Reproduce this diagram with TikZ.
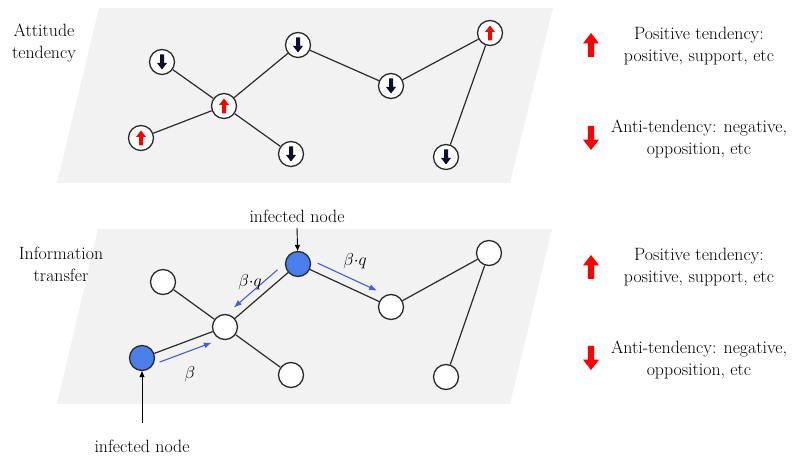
\documentclass[tikz,border=0pt]{standalone}
\usepackage{tikz}
\usetikzlibrary{arrows.meta,calc,positioning}
\definecolor{panelgray}{HTML}{F2F2F2}
\definecolor{edgegray}{HTML}{2B2B2B}
\definecolor{infblue}{HTML}{4A7EEB}
\definecolor{flowblue}{HTML}{4560D6}
\definecolor{darknavy}{HTML}{0D0F2E}
\tikzset{%
	panel/.style    = {fill=panelgray, draw=none}, % plane
	agent/.style    = {draw=edgegray, circle, fill=white, line width=1.3pt, minimum size=25pt, inner sep=0pt}, % node
	infected/.style = {agent, fill=infblue}, % infected node
	link/.style     = {draw=edgegray, line width=1.2pt},
	flow/.style     = {draw=flowblue, line width=1.1pt, -{Latex[length=8pt,width=6pt]}},
	pointer/.style  = {draw=black, line width=0.9pt, -{Triangle[length=6pt,width=5pt]}},
	txt/.style      = {align=center, inner sep=0pt, font=\fontsize{17.8}{22}\selectfont},
	rate/.style     = {txt, font=\fontsize{17.8}{22}\selectfont},
	tend/.pic       = {\fill (-2,-7.5) -- (-2,1) -- (-5,1) -- (0,7.5) -- (5,1) -- (2,1) -- (2,-7.5) -- cycle;},
}

\begin{document}
\begin{tikzpicture}[x=1pt, y=1pt]
	\useasboundingbox (0,0) rectangle (792,457);
	% planes
	\fill[panel] (99,449) -- (553,449) -- (510,274) -- (57,274) -- cycle;
	\fill[panel] (98,228) -- (552,228) -- (510,53) -- (57,53) -- cycle;

	\node[txt] (att) at (44,413.5) {Attitude\\tendency};
	\node[txt] (inf) at (61,192.5) {Information\\transfer};

	% attitude layer
	\node[agent] (a1) at (162,395) {};
	\node[agent] (a2) at (224,351) {};
	\node[agent] (a3) at (141,319) {};
	\node[agent] (a4) at (291,303) {};
	\node[agent] (a5) at (298,412) {};
	\node[agent] (a6) at (391,371) {};
	\node[agent] (a7) at (490,424) {};
	\node[agent] (a8) at (446,300) {};
	\draw[link] (a1) -- (a2);
	\draw[link] (a3) -- (a2);
	\draw[link] (a2) -- (a4);
	\draw[link] (a2) -- (a5);
	\draw[link] (a5) -- (a6);
	\draw[link] (a6) -- (a7);
	\draw[link] (a7) -- (a8);
	\foreach \n in {a2,a3,a7} \pic[red] at (\n) {tend};
	\foreach \n in {a1,a4,a5,a6,a8} \pic[darknavy,rotate=180] at (\n) {tend};

	% transfer layer
	\node[agent] (b1) at (163,175) {};
	\node[agent] (b2) at (225,130) {};
	\node[infected] (b3) at (142,99) {};
	\node[agent] (b4) at (291,82) {};
	\node[infected] (b5) at (298,193) {};
	\node[agent] (b6) at (391,150) {};
	\node[agent] (b7) at (489,204) {};
	\node[agent] (b8) at (446,80) {};
	\draw[link] (b1) -- (b2);
	\draw[link] (b3) -- (b2);
	\draw[link] (b2) -- (b4);
	\draw[link] (b2) -- (b5);
	\draw[link] (b5) -- (b6);
	\draw[link] (b6) -- (b7);
	\draw[link] (b7) -- (b8);

	\draw[flow] ($(b3)!0.17!(b2)!10pt!-90:(b2)$) -- ($(b3)!0.8!(b2)!10pt!-90:(b2)$);
	\draw[flow] ($(b5)!0.2!(b2)!9pt!-90:(b2)$) -- ($(b5)!0.8!(b2)!9pt!-90:(b2)$);
	\draw[flow] ($(b5)!0.17!(b6)!9pt!90:(b6)$) -- ($(b5)!0.81!(b6)!9pt!90:(b6)$);
	\node[rate] (r1) at (190,83) {$\beta$};
	\node[rate] (r2) at (250,175) {$\beta{\cdot}q$};
	\node[rate] (r3) at (355,196) {$\beta{\cdot}q$};

	\node[txt] (in1) at (297,241) {infected node};
	\node[txt] (in2) at (142,11) {infected node};
	\coordinate (s1) at (297,229);
	\coordinate (s2) at (142,34);
	\draw[pointer] (s1) -- (b5);
	\draw[pointer] (s2) -- (b3);

	% legend
	\pic[red,scale=1.6] at (591,412) {tend};
	\pic[red,scale=1.6,rotate=180] at (591,319) {tend};
	\pic[red,scale=1.6] at (591,190) {tend};
	\pic[red,scale=1.6,rotate=180] at (591,99) {tend};
	\node[txt] (pos1) at (699,410.5) {Positive tendency:\\positive, support, etc};
	\node[txt] (neg1) at (699,318) {Anti-tendency: negative,\\opposition, etc};
	\node[txt] (pos2) at (699,189.5) {Positive tendency:\\positive, support, etc};
	\node[txt] (neg2) at (699,97) {Anti-tendency: negative,\\opposition, etc};
\end{tikzpicture}
\end{document}
